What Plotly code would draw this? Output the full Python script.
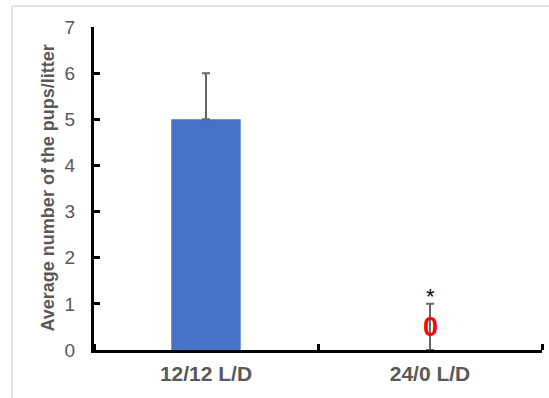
import plotly.graph_objects as go

categories = ["12/12 L/D", "24/0 L/D"]
values = [5, 0]
errors = [1, 1]
value_labels = ["", "0"]
sig_marks = ["", "*"]
y_ticks = [0, 1, 2, 3, 4, 5, 6, 7]

GRAY = "#595959"
FONT = "Liberation Sans, Arial"
pos = list(range(len(categories)))

fig = go.Figure()
fig.add_trace(go.Bar(
    x=pos, y=values, width=0.31,
    marker=dict(color="#4472C4", line=dict(width=0)),
    error_y=dict(type="data", array=errors, arrayminus=[0, 0], visible=True,
                 color="#666666", thickness=2, width=4),
    showlegend=False, hoverinfo="skip",
))

annotations = []
for p, v, e, lab, s in zip(pos, values, errors, value_labels, sig_marks):
    if lab:
        annotations.append(dict(x=p, y=v + e / 2, text="<b>%s</b>" % lab, showarrow=False,
                                font=dict(family=FONT, size=27, color="#FF0000"),
                                xanchor="center", yanchor="middle"))
    if s:
        annotations.append(dict(x=p, y=v + e, text=s, showarrow=False,
                                font=dict(family=FONT, size=22, color="#000000"),
                                xanchor="center", yanchor="bottom", yshift=-7))

annotations.append(dict(x=0, y=0.5, xref="paper", yref="paper", xshift=-47,
                        text="<b>Average number of the pups/litter</b>", textangle=-90,
                        showarrow=False, xanchor="center", yanchor="middle",
                        font=dict(family=FONT, size=18, color=GRAY)))

W, H = 549, 398
L, R, T, B = 94, 7, 27, 48
pw, ph = W - L - R, H - T - B
def px2x(p): return (p - L) / pw
def py2y(p): return (H - B - p) / ph

shapes = [
    dict(type="line", xref="paper", yref="paper", x0=px2x(12), y0=py2y(6), x1=px2x(560), y1=py2y(6),
         line=dict(color="#D9D9D9", width=1.5)),
    dict(type="line", xref="paper", yref="paper", x0=px2x(12), y0=py2y(6), x1=px2x(12), y1=py2y(410),
         line=dict(color="#D9D9D9", width=1.5)),
]

boundaries = [p - 0.5 for p in pos] + [pos[-1] + 0.5]

fig.update_layout(
    width=W, height=H,
    margin=dict(l=L, r=R, t=T, b=B),
    plot_bgcolor="white", paper_bgcolor="white",
    annotations=annotations, shapes=shapes,
    xaxis=dict(
        range=[boundaries[0], boundaries[-1]], automargin=False,
        showline=True, linecolor="black", linewidth=3,
        tickvals=pos, ticktext=["<b>%s</b>" % c for c in categories], ticks="",
        tickfont=dict(family=FONT, size=21, color=GRAY),
        ticklabelstandoff=3,
        minor=dict(tickvals=boundaries, ticks="inside", ticklen=6, tickwidth=3,
                   tickcolor="black", showgrid=False),
        showgrid=False, zeroline=False, fixedrange=True,
    ),
    yaxis=dict(
        range=[0, 7], tickvals=y_ticks, automargin=False,
        showline=True, linecolor="black", linewidth=3,
        ticks="inside", ticklen=6, tickwidth=2.5, tickcolor="black",
        tickfont=dict(family=FONT, size=19, color=GRAY),
        ticklabelstandoff=12,
        showgrid=False, zeroline=False, fixedrange=True,
    ),
)

fig.write_html("out.html", config={"displayModeBar": False},
               post_script="document.body.style.margin='0';document.body.style.overflow='hidden';")
